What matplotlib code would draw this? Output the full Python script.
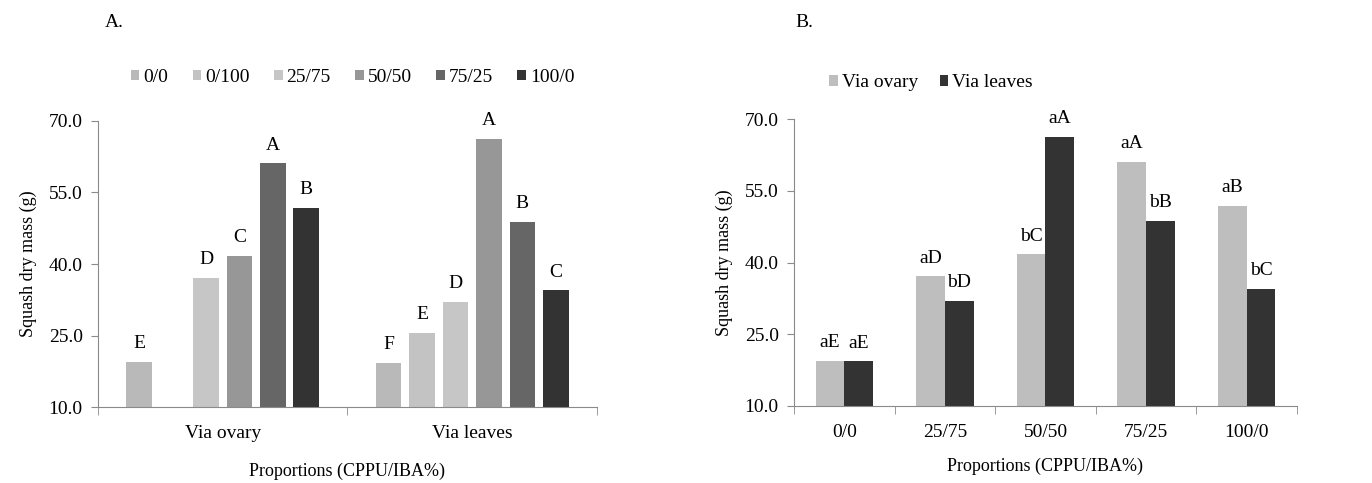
import numpy as np
from matplotlib import pyplot as plt

# ---- data ----
routes = ['Via ovary', 'Via leaves']
proportions_a = ['0/0', '0/100', '25/75', '50/50', '75/25', '100/0']
# rows: proportion, cols: route (via ovary has no 0/100 bar)
mass_a = [[19.4, 19.3],
          [np.nan, 25.6],
          [37.1, 32.0],
          [41.7, 66.3],
          [61.1, 48.8],
          [51.8, 34.5]]
letters_a = [['E', 'F'],
             ['', 'E'],
             ['D', 'D'],
             ['C', 'A'],
             ['A', 'B'],
             ['B', 'C']]

proportions_b = ['0/0', '25/75', '50/50', '75/25', '100/0']
ovary_b = [19.4, 37.1, 41.7, 61.1, 51.8]
leaves_b = [19.3, 32.0, 66.3, 48.8, 34.5]
ovary_letters = ['aE', 'aD', 'bC', 'aA', 'aB']
leaves_letters = ['aE', 'bD', 'aA', 'bB', 'bC']

yticks = [10.0, 25.0, 40.0, 55.0, 70.0]
colors_a = ['#b9b9b9', '#c3c3c3', '#c6c6c6', '#979797', '#666666', '#333333']
colors_b = ['#bebebe', '#333333']

plt.rcParams['font.family'] = ['Liberation Serif', 'DejaVu Serif']
axis_grey = '#8a8a8a'


def style_axes(ax, ncat, xpad):
    ax.set_ylim(10, 70)
    ax.set_yticks(yticks)
    ax.set_yticklabels(['%.1f' % v for v in yticks], fontsize=14)
    ax.set_xlim(-0.5, ncat - 0.5)
    ax.set_xticks(np.arange(-0.5, ncat), minor=True)
    ax.tick_params(axis='x', which='major', length=0, labelsize=14, pad=13)
    ax.tick_params(axis='x', which='minor', length=6, color=axis_grey)
    ax.tick_params(axis='y', length=5, color=axis_grey, pad=6)
    for s in ['top', 'right']:
        ax.spines[s].set_visible(False)
    for s in ['left', 'bottom']:
        ax.spines[s].set_color(axis_grey)
    ax.set_ylabel('Squash dry mass (g)', fontsize=13, labelpad=8)
    ax.set_xlabel('Proportions (CPPU/IBA%)', fontsize=13, labelpad=xpad)


fig = plt.figure(figsize=(13.72, 4.83), dpi=100)

# ---- panel A ----
axA = fig.add_axes([0.0714, 0.1573, 0.3637, 0.5922])
x = np.arange(len(routes))
slot = 0.134
for i, p in enumerate(proportions_a):
    pos = x + (i - 2.5) * slot
    axA.bar(pos, mass_a[i], width=0.103, color=colors_a[i], label=p)
    for xi, h, lab in zip(pos, mass_a[i], letters_a[i]):
        if lab:
            axA.annotate(lab, (xi, h), xytext=(0, 7), textcoords='offset points',
                         ha='center', va='bottom', fontsize=14)
axA.set_xticks(x)
axA.set_xticklabels(routes)
style_axes(axA, len(routes), 15)
axA.legend(loc='lower left', bbox_to_anchor=(0.05, 1.095), ncol=6, frameon=False,
           fontsize=14, handlelength=0.45, handleheight=0.45, handletextpad=0.2,
           columnspacing=1.25, borderaxespad=0)
fig.text(0.0765, 0.945, 'A.', fontsize=14)

# ---- panel B ----
axB = fig.add_axes([0.5787, 0.160, 0.3666, 0.593])
xb = np.arange(len(proportions_b))
w = 0.285
axB.bar(xb - w / 2, ovary_b, width=w, color=colors_b[0], label='Via ovary')
axB.bar(xb + w / 2, leaves_b, width=w, color=colors_b[1], label='Via leaves')
for xi, h, lab in zip(xb - w / 2, ovary_b, ovary_letters):
    axB.annotate(lab, (xi, h), xytext=(0, 7), textcoords='offset points',
                 ha='center', va='bottom', fontsize=14)
for xi, h, lab in zip(xb + w / 2, leaves_b, leaves_letters):
    axB.annotate(lab, (xi, h), xytext=(0, 7), textcoords='offset points',
                 ha='center', va='bottom', fontsize=14)
axB.set_xticks(xb)
axB.set_xticklabels(proportions_b)
style_axes(axB, len(proportions_b), 12)
axB.legend(loc='lower left', bbox_to_anchor=(0.055, 1.07), ncol=2, frameon=False,
           fontsize=14, handlelength=0.45, handleheight=0.45, handletextpad=0.2,
           columnspacing=1.1, borderaxespad=0)
fig.text(0.5795, 0.945, 'B.', fontsize=14)

fig.savefig('out.png', dpi=100)
